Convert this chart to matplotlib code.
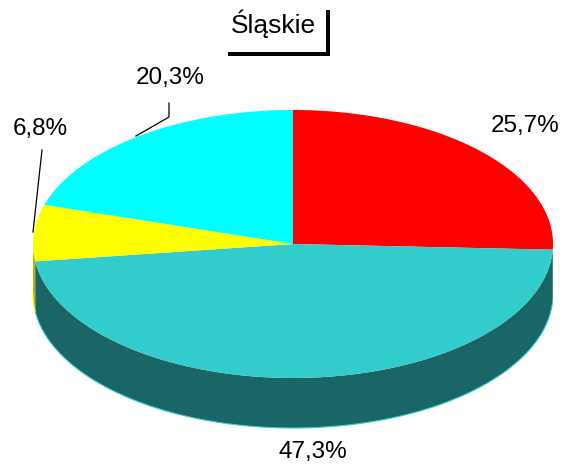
import numpy as np
import matplotlib.pyplot as plt
import matplotlib.patches as mp

plt.rcParams['font.family'] = ['Liberation Sans', 'DejaVu Sans']

title = 'Śląskie'
labels = ['25,7%', '47,3%', '6,8%', '20,3%']
values = [25.7, 47.3, 6.8, 20.3]
colors = ['#FF0000', '#33CCCC', '#FFFF00', '#00FFFF']
side_colors = ['#990000', '#1A6666', '#B3B300', '#009999']

# layout (pixel coords, y down)
cx, cy = 293, 244
rx, ry = 260, 134
depth = 50
label_pos = [(525, 126), (313, 452), (40, 129), (170, 78)]
leaders = [None, None, [(42, 150), (33, 232)], [(169, 103), (169, 117), (136, 136)]]


def ell(t):
    t = np.radians(t)
    return cx + rx * np.cos(t), cy - ry * np.sin(t)


fig = plt.figure(figsize=(5.68, 4.65), dpi=100)
ax = fig.add_axes([0, 0, 1, 1])
ax.set_xlim(0, 568)
ax.set_ylim(465, 0)
ax.axis('off')

total = sum(values)
angles = [90]
for v in values:
    angles.append(angles[-1] - 360 * v / total)

# sides (visible lower half only, skip slivers)
for i in range(len(values)):
    a1, a2 = angles[i + 1], angles[i]
    lo, hi = max(a1, -180), min(a2, 0)
    if hi - lo < 3:
        continue
    t = np.linspace(lo, hi, 100)
    x, y = ell(t)
    xs = np.concatenate([x, x[::-1]])
    ys = np.concatenate([y, (y + depth)[::-1]])
    ax.fill(xs, ys, color=side_colors[i], lw=0)
    ax.plot(x, y + depth, color=colors[i], lw=0.8)

# top
for i in range(len(values)):
    t = np.linspace(angles[i], angles[i + 1], 200)
    x, y = ell(t)
    ax.fill(np.concatenate([[cx], x]), np.concatenate([[cy], y]), color=colors[i], lw=0)

for i, lab in enumerate(labels):
    ax.text(label_pos[i][0], label_pos[i][1], lab, fontsize=17.5, ha='center', va='center')
    if leaders[i]:
        px, py = zip(*leaders[i])
        ax.plot(px, py, color='black', lw=0.9)

# title with shadow
ax.add_patch(mp.Rectangle((228, 10), 102, 46, facecolor='black', lw=0))
ax.add_patch(mp.Rectangle((224, 6), 102, 46, facecolor='white', lw=0))
ax.text(273, 33, title, fontsize=19, ha='center', va='baseline')

fig.savefig('out.png', dpi=100)
